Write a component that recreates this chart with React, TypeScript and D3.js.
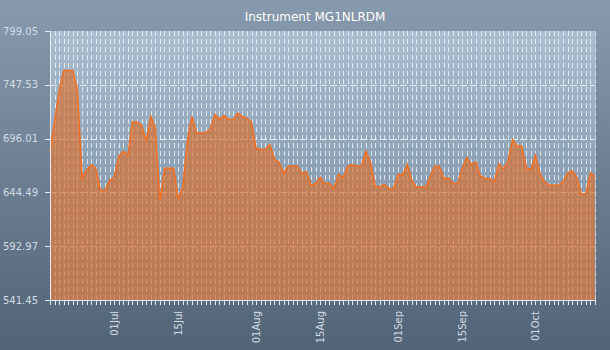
import React, { useEffect } from "react";
import * as d3 from "d3";

const title = "Instrument MG1NLRDM";
const startDate = new Date(2024, 5, 17);
const values: number[] = [
  683.2, 712.5, 742.2, 761.3, 761.3, 761.3, 742.2, 658.1, 665.7, 671.0,
  667.6, 646.6, 646.6, 656.1, 658.5, 679.1, 683.9, 680.0, 711.9, 711.9,
  708.7, 693.4, 717.3, 705.8, 636.4, 667.6, 667.6, 667.6, 638.9, 649.5,
  694.4, 717.3, 701.4, 701.5, 701.7, 704.9, 719.2, 714.2, 718.3, 714.2,
  714.2, 720.5, 717.3, 715.4, 711.9, 686.7, 685.5, 685.5, 690.3, 676.2,
  673.6, 662.8, 669.5, 669.8, 669.8, 662.8, 664.1, 651.4, 653.0, 659.0,
  653.0, 653.0, 648.2, 661.9, 658.7, 669.5, 671.2, 669.8, 669.8, 683.9,
  673.4, 650.4, 649.7, 652.3, 648.2, 648.2, 661.9, 660.9, 671.4, 656.1,
  649.7, 649.7, 649.7, 659.3, 669.5, 669.5, 658.1, 658.3, 653.0, 653.0,
  667.3, 677.8, 671.4, 673.6, 660.0, 657.8, 657.8, 654.7, 671.9, 666.7,
  674.3, 695.1, 688.9, 688.9, 668.1, 666.4, 680.0, 661.9, 654.7, 651.4,
  651.4, 651.4, 654.5, 663.3, 665.0, 659.3, 642.8, 642.8, 663.1, 659.3,
];
const yTicks = [541.45, 592.97, 644.49, 696.01, 747.53, 799.05];
const labelDays = [1, 15];

const W = 610, H = 350;
const L = 50, R = 595, T = 31, B = 300;
const font = "DejaVu Sans, Verdana, sans-serif";

export default function App() {
  useEffect(() => {
    document.body.style.margin = "0";
  }, []);
  const dates = values.map((_, i) => d3.timeDay.offset(startDate, i));
  const data = values.map((v, i) => ({ d: dates[i], v }));
  const x = d3.scaleTime().domain([dates[0], dates[dates.length - 1]]).range([L, R]);
  const y = d3.scaleLinear().domain([yTicks[0], yTicks[yTicks.length - 1]]).range([B, T]);
  const px = (d: Date) => Math.round(x(d)) + 0.5;
  const py = (v: number) => Math.round(y(v)) + 0.5;
  const area = d3.area<{ d: Date; v: number }>().x((p) => x(p.d)).y0(B).y1((p) => y(p.v));
  const line = d3.line<{ d: Date; v: number }>().x((p) => x(p.d)).y((p) => y(p.v));
  const fmt = d3.timeFormat("%d%b");
  const labels = dates.filter((d) => labelDays.includes(d.getDate()));

  return (
    <svg width={W} height={H} style={{ display: "block" }}>
      <defs>
        <linearGradient id="bg" x1="0" y1="0" x2="0" y2="1">
          <stop offset="0" stopColor="#879aae" />
          <stop offset="1" stopColor="#516377" />
        </linearGradient>
        <linearGradient id="pbg" x1="0" y1="0" x2="0" y2="1">
          <stop offset="0" stopColor="#abbed0" />
          <stop offset="0.5" stopColor="#8ea2b7" />
          <stop offset="1" stopColor="#7e93a9" />
        </linearGradient>
      </defs>
      <rect x={0} y={0} width={W} height={H} fill="url(#bg)" />
      <rect x={L} y={T} width={R - L} height={B - T} fill="url(#pbg)" />
      <text x={315} y={21} textAnchor="middle" fill="#ffffff" fontFamily={font} fontSize={12}>
        {title}
      </text>
      {dates.map((d, i) => (
        <line key={"vg" + i} x1={px(d)} x2={px(d)} y1={T} y2={B} stroke="#ffffff" strokeOpacity={0.7} strokeDasharray="5,3" />
      ))}
      {yTicks.slice(1, -1).map((t, i) => (
        <line key={"hg" + i} x1={L} x2={R} y1={py(t)} y2={py(t)} stroke="#ffffff" strokeOpacity={0.75} strokeDasharray="7,3" />
      ))}
      <path d={area(data) || ""} fill="#d8702e" fillOpacity={0.68} />
      <path d={line(data) || ""} fill="none" stroke="#f47020" strokeWidth={1.5} />
      <line x1={L + 0.5} x2={L + 0.5} y1={T} y2={B} stroke="#e6ecf2" />
      <line x1={L} x2={R} y1={B + 0.5} y2={B + 0.5} stroke="#e6ecf2" />
      <line x1={R + 0.5} x2={R + 0.5} y1={T} y2={B} stroke="#c8d4de" strokeOpacity={0.6} />
      {yTicks.map((t, i) => (
        <g key={"yt" + i}>
          <line x1={L - 5} x2={L} y1={py(t)} y2={py(t)} stroke="#e6ecf2" />
          <text x={L - 12} y={y(t)} dy="0.35em" textAnchor="end" fill="#d5dde5" fontFamily={font} fontSize={10}>
            {t.toFixed(2)}
          </text>
        </g>
      ))}
      {dates.map((d, i) => (
        <line key={"xt" + i} x1={px(d)} x2={px(d)} y1={B} y2={B + 5} stroke="#e6ecf2" />
      ))}
      {labels.map((d, i) => (
        <text
          key={"xl" + i}
          transform={`translate(${x(d)},${B + 11}) rotate(-90)`}
          dy="0.35em"
          textAnchor="end"
          fill="#d5dde5"
          fontFamily={font}
          fontSize={10}
        >
          {fmt(d)}
        </text>
      ))}
    </svg>
  );
}
